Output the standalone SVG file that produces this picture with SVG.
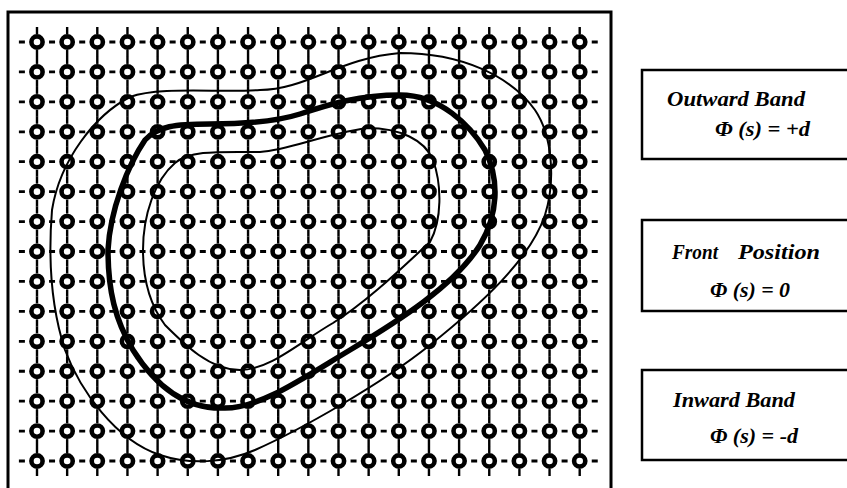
<svg xmlns="http://www.w3.org/2000/svg" xmlns:xlink="http://www.w3.org/1999/xlink" width="847" height="488" viewBox="0 0 847 488">
<style>
.ring{fill:#fff;stroke:#000;stroke-width:4.6}
.tick{stroke:#000;stroke-width:2.4}
.dash{stroke:#000;stroke-width:2.8;stroke-dasharray:6 24.15}
.contour{fill:none;stroke:#000;stroke-width:2;stroke-linejoin:round}
.front{fill:none;stroke:#000;stroke-width:5.5;stroke-linejoin:round}
.box{fill:#fff;stroke:#000;stroke-width:2.5}
.lbl{font-family:"Liberation Serif","Times New Roman",serif;font-weight:bold;font-style:italic;font-size:20px;fill:#000}
</style>
<defs>
<g id="pt">
<line class="tick" x1="0" y1="-15" x2="0" y2="-8"/>
<line class="tick" x1="0" y1="8" x2="0" y2="15"/>
<circle class="ring" r="5.6"/>
</g>
<g id="row">
<line class="dash" x1="18.9" y1="0" x2="598" y2="0"/>
<use xlink:href="#pt" x="37"/><use xlink:href="#pt" x="67.15"/><use xlink:href="#pt" x="97.3"/><use xlink:href="#pt" x="127.45"/><use xlink:href="#pt" x="157.6"/><use xlink:href="#pt" x="187.75"/><use xlink:href="#pt" x="217.9"/><use xlink:href="#pt" x="248.05"/><use xlink:href="#pt" x="278.2"/><use xlink:href="#pt" x="308.35"/><use xlink:href="#pt" x="338.5"/><use xlink:href="#pt" x="368.65"/><use xlink:href="#pt" x="398.8"/><use xlink:href="#pt" x="428.95"/><use xlink:href="#pt" x="459.1"/><use xlink:href="#pt" x="489.25"/><use xlink:href="#pt" x="519.4"/><use xlink:href="#pt" x="549.55"/><use xlink:href="#pt" x="579.7"/>
</g>
</defs>
<rect width="847" height="488" fill="#fff"/>
<g id="grid">
<rect x="8" y="12" width="603" height="482" fill="none" stroke="#000" stroke-width="3"/>
<use xlink:href="#row" y="42"/><use xlink:href="#row" y="71.93"/><use xlink:href="#row" y="101.86"/><use xlink:href="#row" y="131.79"/><use xlink:href="#row" y="161.72"/><use xlink:href="#row" y="191.65"/><use xlink:href="#row" y="221.58"/><use xlink:href="#row" y="251.51"/><use xlink:href="#row" y="281.44"/><use xlink:href="#row" y="311.37"/><use xlink:href="#row" y="341.3"/><use xlink:href="#row" y="371.23"/><use xlink:href="#row" y="401.16"/><use xlink:href="#row" y="431.09"/><use xlink:href="#row" y="461.02"/>
</g>
<g id="contours">
<path id="outward" class="contour" d="M400,53 C460,53 510,75 535,110 C552,135 556,180 545,215 C530,260 480,305 430,345 C380,385 300,430 255,450 C225,463 190,465 160,455 C115,440 80,390 65,350 C52,310 48,260 52,210 C60,160 95,115 130,97 C160,86 220,93 260,90 C305,90 340,58 400,53 Z"/>
<path id="front" class="front" d="M400,95 C440,95 470,125 485,150 C500,180 498,215 480,245 C455,285 400,320 350,350 C300,380 260,408 225,408 C185,410 155,385 133,350 C115,320 108,290 108,250 C110,210 128,165 145,140 C158,126 175,124 210,124 C245,124 275,122 300,114 C330,104 360,95 400,95 Z"/>
<path id="inward" class="contour" d="M367,128 C400,128 425,140 433,160 C442,185 442,220 430,242 C410,260 370,300 333,323 C300,342 270,370 240,370 C210,370 185,345 165,325 C150,305 143,280 143,250 C143,215 155,180 175,163 C190,150 220,152 260,152 C290,150 320,135 367,128 Z"/>
</g>
<g id="box-outward">
<rect class="box" x="642" y="70" width="210" height="89"/>
<text class="lbl" x="667" y="106" textLength="138" lengthAdjust="spacingAndGlyphs">Outward Band</text>
<text class="lbl" x="715" y="136" textLength="95" lengthAdjust="spacingAndGlyphs">Φ (s) = +d</text>
</g>
<g id="box-front">
<rect class="box" x="642" y="220" width="210" height="91"/>
<text class="lbl" x="672" y="259" textLength="46" lengthAdjust="spacingAndGlyphs">Front</text>
<text class="lbl" x="738" y="259" textLength="82" lengthAdjust="spacingAndGlyphs">Position</text>
<text class="lbl" x="710" y="297" textLength="80" lengthAdjust="spacingAndGlyphs">Φ (s) = 0</text>
</g>
<g id="box-inward">
<rect class="box" x="642" y="370" width="210" height="90"/>
<text class="lbl" x="673" y="407" textLength="122" lengthAdjust="spacingAndGlyphs">Inward Band</text>
<text class="lbl" x="710" y="443" textLength="88" lengthAdjust="spacingAndGlyphs">Φ (s) = -d</text>
</g>
</svg>
